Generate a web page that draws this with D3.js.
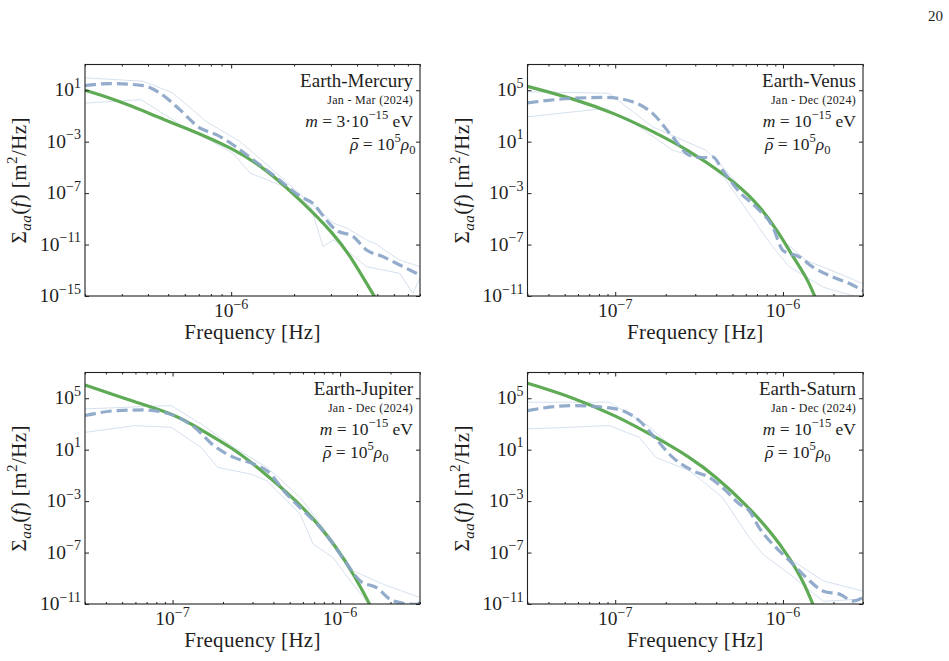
<!DOCTYPE html>
<html><head><meta charset="utf-8">
<script src="https://cdn.jsdelivr.net/npm/d3@7"></script>
<style>
body{margin:0;background:#fff}
svg{display:block;background:#fff}
text{font-family:"Liberation Serif","Times New Roman",Tinos,serif;fill:#1e1e1e}
</style>
</head><body>
<svg id="c" width="949" height="661"></svg>
<script>
// ---------------- data ----------------
const panelNames = ["Earth-Mercury", "Earth-Venus", "Earth-Jupiter", "Earth-Saturn"];
const panelPeriods = ["Jan - Mar (2024)", "Jan - Dec (2024)", "Jan - Dec (2024)", "Jan - Dec (2024)"];
const massPrefactors = ["3·", "", "", ""];
const massExponent = "−15";
const rhoExponent = "5";
const xDomains = [[2e-7, 8e-6], [3e-8, 3e-6], [3e-8, 3e-6], [3e-8, 3e-6]];
const yDomains = [[1e-15, 1e3], [1e-11, 1e7], [1e-11, 1e7], [1e-11, 1e7]];
const xTickValues = [[1e-6], [1e-7, 1e-6], [1e-7, 1e-6], [1e-7, 1e-6]];
const yTickValues = [[1e-15, 1e-11, 1e-7, 1e-3, 1e1], [1e-11, 1e-7, 1e-3, 1e1, 1e5], [1e-11, 1e-7, 1e-3, 1e1, 1e5], [1e-11, 1e-7, 1e-3, 1e1, 1e5]];
const xTickExponents = [["−6"], ["−7", "−6"], ["−7", "−6"], ["−7", "−6"]];
const yTickExponents = [["−15", "−11", "−7", "−3", "1"], ["−11", "−7", "−3", "1", "5"], ["−11", "−7", "−3", "1", "5"], ["−11", "−7", "−3", "1", "5"]];

// Earth-Mercury
const mercuryTheoryF = [2e-7, 2.35e-7, 3.39e-7, 4.55e-7, 5.9e-7, 1.02e-6, 1.48e-6, 2.14e-6, 3.09e-6, 3.83e-6, 4.81e-6, 5.3e-6];
const mercuryTheoryS = [1.0e1, 4.6, 5.6e-1, 6.9e-2, 1.4e-2, 3.2e-4, 6.6e-6, 3.0e-8, 7.6e-11, 6.3e-13, 1.0e-15, 1e-16];
const mercuryMedianF = [2e-7, 2.63e-7, 3.8e-7, 4.55e-7, 5.68e-7, 7.07e-7, 8.5e-7, 1.02e-6, 1.27e-6, 1.66e-6, 2.14e-6, 2.45e-6, 2.85e-6, 3.16e-6, 3.83e-6, 4.44e-6, 5.32e-6, 6.4e-6, 8e-6];
const mercuryMedianS = [2.3e1, 3.3e1, 2.3e1, 6.2, 3.1e-1, 1.17e-2, 3.5e-3, 5.8e-4, 4.0e-5, 1.48e-6, 5.5e-8, 1.66e-8, 8.3e-10, 1.38e-10, 4.2e-11, 3.8e-12, 1.15e-12, 2.57e-13, 4.3e-14];
const mercuryUpperF = [2e-7, 3.8e-7, 5.25e-7, 7.59e-7, 1.1e-6, 1.58e-6, 2.29e-6, 2.63e-6, 3.09e-6, 3.55e-6, 4.44e-6, 5.0e-6, 5.6e-6, 6.4e-6, 8e-6];
const mercuryUpperS = [9.1e1, 5.0e1, 6.2, 3.8e-2, 1.05e-3, 6.6e-6, 3.0e-8, 5e-9, 4.6e-10, 2e-10, 2.3e-11, 1e-11, 2.5e-12, 6.3e-13, 1.9e-13];
const mercuryLowerF = [2e-7, 3.7e-7, 5.9e-7, 1.02e-6, 1.23e-6, 1.78e-6, 2.4e-6, 2.75e-6, 3.09e-6, 4.44e-6, 6.4e-6, 7.4e-6, 8e-6];
const mercuryLowerS = [1.0, 1.86, 1.55e-2, 1.3e-4, 3.6e-6, 3.3e-7, 9.1e-9, 6.9e-12, 2.3e-11, 1.9e-13, 5.8e-14, 1.6e-15, 2.5e-14];

// Earth-Venus
const venusTheoryF = [3e-8, 5.56e-8, 1e-7, 1.75e-7, 2.77e-7, 4.37e-7, 6.9e-7, 9.55e-7, 1.15e-6, 1.38e-6, 1.55e-6, 1.66e-6];
const venusTheoryS = [2.0e5, 2.34e4, 1.58e3, 4.8e1, 1.9, 3.7e-2, 2.75e-4, 6.9e-7, 1.05e-8, 2.9e-10, 9.1e-12, 1e-12];
const venusMedianF = [3e-8, 5.56e-8, 8.8e-8, 1.27e-7, 1.67e-7, 2.2e-7, 2.77e-7, 3.32e-7, 3.81e-7, 4.37e-7, 5.5e-7, 6.9e-7, 8.7e-7, 1e-6, 1.26e-6, 1.51e-6, 2.0e-6, 2.51e-6, 3e-6];
const venusMedianS = [1.05e4, 2.34e4, 2.75e4, 1.26e4, 1.58e3, 2.34e1, 8.9e-1, 5.9e-1, 6.5e-1, 6.0e-2, 1.23e-3, 8.3e-5, 2.3e-6, 3.5e-8, 1.05e-8, 1.74e-9, 2.9e-10, 8.9e-11, 2.6e-11];
const venusUpperF = [3e-8, 9.2e-8, 1.67e-7, 3.47e-7, 4.37e-7, 6.9e-7, 1e-6, 1.38e-6, 2.19e-6, 3e-6];
const venusUpperS = [7.6e4, 5.75e4, 1.41e2, 2.19, 1.07e-1, 1.5e-4, 2.1e-7, 5.75e-9, 5.2e-10, 8.9e-11];
const venusLowerF = [3e-8, 8.8e-8, 1.39e-7, 2.2e-7, 3.47e-7, 4.57e-7, 6.3e-7, 8.7e-7, 1.1e-6, 1.74e-6, 3e-6];
const venusLowerS = [8.5e2, 3.9e3, 1.41e2, 2.19, 3.6e-1, 1e-2, 2.5e-5, 6.3e-8, 1.74e-9, 4.8e-11, 6.3e-12];

// Earth-Jupiter
const jupiterTheoryF = [3e-8, 5.9e-8, 1.02e-7, 1.47e-7, 2.32e-7, 3.05e-7, 6.34e-7, 9.86e-7, 1.2e-6, 1.51e-6, 1.62e-6];
const jupiterTheoryS = [1.07e6, 5.2e4, 6.0e3, 3.8e2, 1.12e1, 7.6e-1, 2.4e-4, 1.35e-7, 2.1e-9, 9.3e-12, 1e-12];
const jupiterMedianF = [3e-8, 4.7e-8, 6.8e-8, 1.02e-7, 1.35e-7, 1.77e-7, 2.32e-7, 3.05e-7, 3.66e-7, 4.8e-7, 6.05e-7, 7.3e-7, 9.1e-7, 1.1e-6, 1.32e-6, 1.65e-6, 2.08e-6, 2.86e-6, 3e-6];
const jupiterMedianS = [4.5e3, 1.1e4, 1.23e4, 4.5e3, 5.5e2, 2.0e1, 2.5, 7.6e-1, 2.3e-1, 3.5e-3, 1.74e-4, 1.6e-5, 4.5e-7, 1.23e-8, 6.2e-10, 1.86e-10, 1.7e-11, 9.3e-12, 1.4e-11];
const jupiterUpperF = [3e-8, 9.8e-8, 1.48e-7, 2.32e-7, 3.66e-7, 5.78e-7, 9.1e-7, 1.2e-6, 1.81e-6, 3e-6];
const jupiterUpperS = [1.48e4, 2.7e4, 1e3, 1.5e1, 4.2e-1, 1.9e-3, 8.1e-7, 3.7e-9, 3.4e-10, 3.2e-11];
const jupiterLowerF = [3e-8, 5.9e-8, 9.8e-8, 1.48e-7, 1.86e-7, 2.92e-7, 3.66e-7, 5.78e-7, 6.9e-7, 9.1e-7, 1.15e-6, 1.45e-6, 1.78e-6, 3e-6];
const jupiterLowerS = [2.2e2, 7.4e2, 5.5e2, 1.5e1, 4.2e-1, 1.26e-1, 3.8e-2, 9.8e-5, 4.5e-7, 4e-8, 6.3e-10, 1.6e-11, 3.2e-12, 8e-12];

// Earth-Saturn
const saturnTheoryF = [3e-8, 5.56e-8, 1.01e-7, 1.75e-7, 2.77e-7, 3.99e-7, 6.0e-7, 8.7e-7, 1.09e-6, 1.32e-6, 1.51e-6, 1.62e-6];
const saturnTheoryS = [1.48e6, 1.2e5, 4.5e3, 9.1e1, 2.8, 7.9e-2, 5.9e-4, 2.7e-6, 4e-8, 6.2e-10, 9.3e-12, 1e-12];
const saturnMedianF = [3e-8, 5.56e-8, 1.01e-7, 1.39e-7, 1.75e-7, 2.2e-7, 2.9e-7, 3.64e-7, 4.58e-7, 5.5e-7, 6.3e-7, 7.2e-7, 9.1e-7, 1.1e-6, 1.38e-6, 1.74e-6, 2.19e-6, 2.63e-6, 3e-6];
const saturnMedianS = [1.1e4, 2.7e4, 1.48e4, 1.82e3, 6.8e1, 2.5, 2.3e-1, 6.9e-2, 6.3e-3, 5.9e-4, 1.74e-4, 8.7e-6, 2.4e-7, 2.2e-8, 1.1e-9, 1.0e-10, 5.6e-11, 1.7e-11, 3.2e-11];
const saturnUpperF = [3e-8, 9.2e-8, 1.52e-7, 2.2e-7, 3.47e-7, 5.5e-7, 8.7e-7, 1.15e-6, 1.74e-6, 3e-6];
const saturnUpperS = [4.9e4, 4.9e4, 1e3, 1.5e1, 4.2e-1, 1.9e-3, 1.45e-6, 2.2e-8, 6.2e-10, 1e-10];
const saturnLowerF = [3e-8, 9.2e-8, 1.39e-7, 1.75e-7, 2.77e-7, 4.37e-7, 6.3e-7, 7.6e-7, 1.1e-6, 1.74e-6, 3e-6];
const saturnLowerS = [4.1e2, 7.4e2, 9.1e1, 2.5, 2.3e-1, 1.9e-3, 1.45e-6, 7.4e-8, 2e-9, 1.6e-11, 2.5e-11];

// ---------------- assembly ----------------
const zip = (f, s) => f.map((v, i) => [v, s[i]]);
const seriesByPanel = [
  {theory: zip(mercuryTheoryF, mercuryTheoryS), median: zip(mercuryMedianF, mercuryMedianS), upper: zip(mercuryUpperF, mercuryUpperS), lower: zip(mercuryLowerF, mercuryLowerS)},
  {theory: zip(venusTheoryF, venusTheoryS), median: zip(venusMedianF, venusMedianS), upper: zip(venusUpperF, venusUpperS), lower: zip(venusLowerF, venusLowerS)},
  {theory: zip(jupiterTheoryF, jupiterTheoryS), median: zip(jupiterMedianF, jupiterMedianS), upper: zip(jupiterUpperF, jupiterUpperS), lower: zip(jupiterLowerF, jupiterLowerS)},
  {theory: zip(saturnTheoryF, saturnTheoryS), median: zip(saturnMedianF, saturnMedianS), upper: zip(saturnUpperF, saturnUpperS), lower: zip(saturnLowerF, saturnLowerS)}
];

// layout (pixels)
const layout = [
  {l: 85, r: 420, t: 64.5, b: 296, rhoOff: 70},
  {l: 527.5, r: 863, t: 64.5, b: 296, rhoOff: 98},
  {l: 85, r: 420, t: 372.5, b: 604, rhoOff: 97},
  {l: 527.5, r: 863, t: 372.5, b: 604, rhoOff: 98}
];

const GREEN = "#5fab55", BLUE = "#8aa5c8", LIGHT = "#d6e1ef", FRAME = "#222";
const svg = d3.select("#c");
svg.append("rect").attr("width", 949).attr("height", 661).attr("fill", "#fff");

function rich(sel, parts, size) {
  let off = 0;
  parts.forEach(([t, m, dx]) => {
    const sup = m.includes("sup"), sub = m.includes("sub");
    const target = sup ? -0.42 * size : sub ? 0.26 * size : 0;
    const ts = sel.append("tspan").text(t);
    if (target - off !== 0) ts.attr("dy", target - off);
    if (dx) ts.attr("dx", dx * size);
    off = target;
    if (sup || sub) ts.attr("font-size", size * 0.72);
    if (m.startsWith("i")) ts.attr("font-style", "italic");
  });
  return sel;
}

// page number
svg.append("text").attr("x", 943).attr("y", 21).attr("text-anchor", "end").attr("font-size", 15).text("20");

layout.forEach((L, p) => {
  const x = d3.scaleLog().domain(xDomains[p]).range([L.l, L.r]);
  const y = d3.scaleLog().domain(yDomains[p]).range([L.b, L.t]);
  const g = svg.append("g");
  const clipId = "clip" + p;
  g.append("clipPath").attr("id", clipId).append("rect")
    .attr("x", L.l).attr("y", L.t).attr("width", L.r - L.l).attr("height", L.b - L.t);
  const plot = g.append("g").attr("clip-path", `url(#${clipId})`);
  const S = seriesByPanel[p];
  const lin = d3.line().x(d => x(d[0])).y(d => y(d[1]));
  const mono = d3.line().x(d => x(d[0])).y(d => y(d[1])).curve(d3.curveMonotoneX);
  const basis = d3.line().x(d => x(d[0])).y(d => y(d[1])).curve(d3.curveBasis);

  plot.append("path").attr("d", lin(S.upper)).attr("fill", "none").attr("stroke", LIGHT).attr("stroke-width", 1);
  plot.append("path").attr("d", lin(S.lower)).attr("fill", "none").attr("stroke", LIGHT).attr("stroke-width", 1);
  plot.append("path").attr("d", basis(S.theory)).attr("fill", "none").attr("stroke", GREEN).attr("stroke-width", 3.2);
  plot.append("path").attr("d", mono(S.median)).attr("fill", "none").attr("stroke", BLUE).attr("stroke-width", 3.2)
    .attr("stroke-dasharray", "11,5").attr("opacity", 0.92);

  // ticks via d3 axes (inward)
  const majorsX = xTickValues[p];
  const minorsX = x.ticks().filter(v => !majorsX.some(m => Math.abs(Math.log10(m) - Math.log10(v)) < 1e-6));
  const styleAxis = a => { a.select(".domain").remove(); a.selectAll("line").attr("stroke", FRAME); a.selectAll("text").remove(); };
  g.append("g").attr("transform", `translate(0,${L.b})`).call(d3.axisBottom(x).tickValues(majorsX).tickSize(-4).tickFormat("")).call(styleAxis);
  g.append("g").attr("transform", `translate(0,${L.b})`).call(d3.axisBottom(x).tickValues(minorsX).tickSize(-2).tickFormat("")).call(styleAxis);
  g.append("g").attr("transform", `translate(0,${L.t})`).call(d3.axisTop(x).tickValues(majorsX).tickSize(-4).tickFormat("")).call(styleAxis);
  g.append("g").attr("transform", `translate(0,${L.t})`).call(d3.axisTop(x).tickValues(minorsX).tickSize(-2).tickFormat("")).call(styleAxis);
  g.append("g").attr("transform", `translate(${L.l},0)`).call(d3.axisLeft(y).tickValues(yTickValues[p]).tickSize(-4).tickFormat("")).call(styleAxis);
  g.append("g").attr("transform", `translate(${L.r},0)`).call(d3.axisRight(y).tickValues(yTickValues[p]).tickSize(-4).tickFormat("")).call(styleAxis);

  g.append("rect").attr("x", L.l).attr("y", L.t).attr("width", L.r - L.l).attr("height", L.b - L.t)
    .attr("fill", "none").attr("stroke", FRAME).attr("stroke-width", 1.1);

  // tick labels
  majorsX.forEach((v, i) => {
    rich(g.append("text").attr("x", x(v)).attr("y", L.b + 21).attr("text-anchor", "middle").attr("font-size", 19.5),
      [["10", "n"], [xTickExponents[p][i], "sup"]], 19.5);
  });
  yTickValues[p].forEach((v, i) => {
    rich(g.append("text").attr("x", L.l - 4).attr("y", y(v) + 6).attr("text-anchor", "end").attr("font-size", 19.5),
      [["10", "n"], [yTickExponents[p][i], "sup"]], 19.5);
  });

  // axis titles
  g.append("text").attr("x", (L.l + L.r) / 2).attr("y", L.b + 43).attr("text-anchor", "middle")
    .attr("font-size", 21).attr("letter-spacing", 0.3).text("Frequency [Hz]");
  const yl = g.append("text").attr("transform", `translate(${L.l - 59},${(L.t + L.b) / 2}) rotate(-90)`)
    .attr("text-anchor", "middle").attr("font-size", 21).attr("letter-spacing", 0.4);
  rich(yl, [["Σ", "n"], ["aa", "isub"], ["(", "n"], ["f", "i"], [") [m", "n"], ["2", "sup"], ["/Hz]", "n"]], 21);

  // annotations
  g.append("text").attr("x", L.r - 7).attr("y", L.t + 22.5).attr("text-anchor", "end").attr("font-size", 19).text(panelNames[p]);
  g.append("text").attr("x", L.r - 7).attr("y", L.t + 39.5).attr("text-anchor", "end").attr("font-size", 12).attr("letter-spacing", 0.3).text(panelPeriods[p]);
  rich(g.append("text").attr("x", L.r - 7).attr("y", L.t + 62).attr("text-anchor", "end").attr("font-size", 17.5),
    [["m", "i"], [" = " + massPrefactors[p] + "10", "n"], [massExponent, "sup"], [" eV", "n"]], 17.5);
  const rhoBase = L.t + 85;
  const rhoText = rich(g.append("text").attr("x", L.r - L.rhoOff).attr("y", rhoBase).attr("text-anchor", "start").attr("font-size", 17.5),
    [["ρ", "i"], [" = 10", "n"], [rhoExponent, "sup"], ["ρ", "i"], ["0", "sub"]], 17.5);
  const ext = rhoText.node().getExtentOfChar(0);
  g.append("line").attr("x1", ext.x + 2.2).attr("x2", ext.x + ext.width + 0.8)
    .attr("y1", rhoBase - 11).attr("y2", rhoBase - 11).attr("stroke", "#1e1e1e").attr("stroke-width", 1);
});
</script>
</body></html>
